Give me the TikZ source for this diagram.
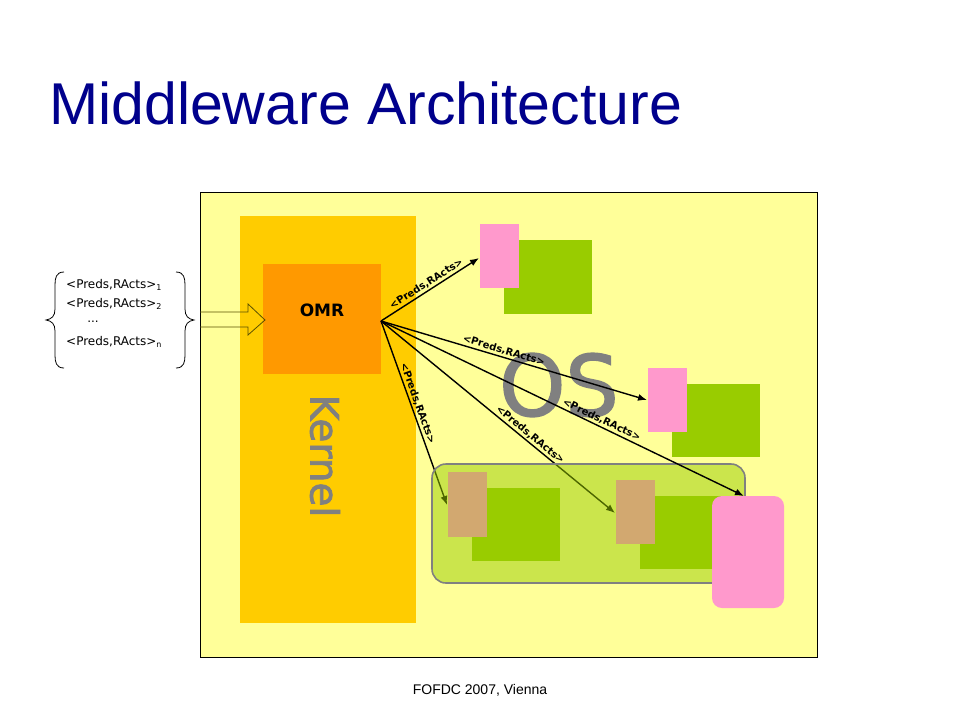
\documentclass[tikz,border=0pt]{standalone}
\usepackage{fontspec}
\setmainfont{Liberation Sans}
\newfontfamily\comic{DejaVu Sans}
\newfontfamily\comicheavy{DejaVu Sans}[FakeBold=2]
\usetikzlibrary{arrows.meta}
\definecolor{ybg}{RGB}{255,255,153}
\definecolor{kern}{RGB}{255,204,0}
\definecolor{omr}{RGB}{255,153,0}
\definecolor{pinkc}{RGB}{255,153,204}
\definecolor{greenc}{RGB}{153,204,0}
\definecolor{tanc}{RGB}{210,168,112}
\definecolor{titlec}{RGB}{0,0,140}
\definecolor{greyc}{RGB}{128,128,128}
\definecolor{arrowol}{RGB}{90,80,0}
\tikzset{
  blk/.style={draw=none, inner sep=0pt, outer sep=0pt, anchor=north west},
  msg/.style={line width=1.4pt, -{Latex[length=9pt,width=7pt]}},
  lbl/.style={font=\comic\bfseries\fontsize{10}{11}\selectfont, sloped, above, inner sep=1.5pt},
  listtxt/.style={font=\comic\fontsize{12}{13}\selectfont, inner sep=0pt}
}
\begin{document}
\begin{tikzpicture}[x=1pt,y=-1pt]
\useasboundingbox (0,0) rectangle (960,720);
\fill[white] (0,0) rectangle (960,720);
% title
\node[font=\fontsize{59}{62}\selectfont, text=titlec, anchor=west, inner sep=0pt] (title) at (49,103) {Middleware Architecture};
% outer box
\node[blk, fill=ybg, draw=black, line width=0.8pt, minimum width=617pt, minimum height=465pt] (outer) at (200,192) {};
% kernel
\node[blk, fill=kern, minimum width=176pt, minimum height=407pt] (kernel) at (240,216) {};
\node[blk, fill=omr, minimum width=118pt, minimum height=110pt] (omrbox) at (263,264) {};
\node[font=\comic\bfseries\fontsize{17}{18}\selectfont] (omr) at (322,310) {OMR};
\node[font=\comicheavy\fontsize{39}{41}\selectfont, text=greyc, rotate=-90] (ktext) at (325,456) {Kernel};
% OS text
\node[font=\comicheavy\fontsize{84}{86}\selectfont, text=greyc] (os) at (559,385) {OS};
% top pink/green pair
\node[blk, fill=greenc, minimum width=88pt, minimum height=74pt] (g1) at (504,240) {};
\node[blk, fill=pinkc, minimum width=39pt, minimum height=64pt] (p1) at (480,224) {};
% middle pair
\node[blk, fill=greenc, minimum width=88pt, minimum height=73pt] (g2) at (672,384) {};
\node[blk, fill=pinkc, minimum width=39pt, minimum height=64pt] (p2) at (648,368) {};
% list
\node[listtxt, anchor=west] (l1) at (66,285) {<Preds,RActs>\raisebox{-2pt}{\fontsize{8}{8}\selectfont 1}};
\node[listtxt, anchor=west] (l2) at (66,304) {<Preds,RActs>\raisebox{-2pt}{\fontsize{8}{8}\selectfont 2}};
\node[listtxt] (l3) at (93,322) {...};
\node[listtxt, anchor=west] (l4) at (66,342) {<Preds,RActs>\raisebox{-2pt}{\fontsize{8}{8}\selectfont n}};
\draw[line width=0.8pt] (64,272) .. controls (56,272) and (55,278) .. (55,285) -- (55,309)
   .. controls (55,316) and (52,319) .. (46,320) .. controls (52,321) and (55,324) .. (55,331)
   -- (55,355) .. controls (55,362) and (56,368) .. (64,368);
\draw[line width=0.8pt] (176,272) .. controls (184,272) and (185,278) .. (185,285) -- (185,309)
   .. controls (185,316) and (188,319) .. (194,320) .. controls (188,321) and (185,324) .. (185,331)
   -- (185,355) .. controls (185,362) and (184,368) .. (176,368);
% block arrow
\draw[arrowol, line width=0.8pt, line join=miter] (200,312) -- (248,312) -- (248,304) -- (265,320) -- (248,335) -- (248,327) -- (200,327);
% arrows
\coordinate (src) at (381,321);
\coordinate (t1) at (479,258);
\coordinate (t2) at (647,400);
\coordinate (t3) at (744,496);
\coordinate (t4) at (447,505);
\coordinate (t5) at (615,513);
\draw[msg] (src) -- node[lbl, pos=0.5] {<Preds,RActs>} (t1);
\draw[msg] (src) -- node[lbl, pos=0.455] {<Preds,RActs>} (t2);
\draw[msg] (src) -- node[lbl, pos=0.46] {<Preds,RActs>} (t4);
\draw[msg] (src) -- node[lbl, pos=0.62] {<Preds,RActs>} (t5);
% translucent group
\node[blk, fill=greenc, fill opacity=0.5, draw=greyc, draw opacity=1, line width=1.6pt, rounded corners=14pt, minimum width=313pt, minimum height=119pt] (grp) at (432,464) {};
\node[blk, fill=greenc, minimum width=88pt, minimum height=73pt] (g3) at (472,488) {};
\node[blk, fill=tanc, minimum width=39pt, minimum height=65pt] (tn1) at (448,472) {};
\node[blk, fill=greenc, minimum width=88pt, minimum height=73pt] (g4) at (640,496) {};
\node[blk, fill=tanc, minimum width=39pt, minimum height=64pt] (tn2) at (616,480) {};
\draw[msg] (src) -- node[lbl, pos=0.6] {<Preds,RActs>} (t3);
\node[blk, fill=pinkc, rounded corners=10pt, minimum width=72pt, minimum height=112pt] (p3) at (712,496) {};
% footer
\node[font=\fontsize{14}{16}\selectfont] (foot) at (480,690) {FOFDC 2007, Vienna};
\end{tikzpicture}
\end{document}
